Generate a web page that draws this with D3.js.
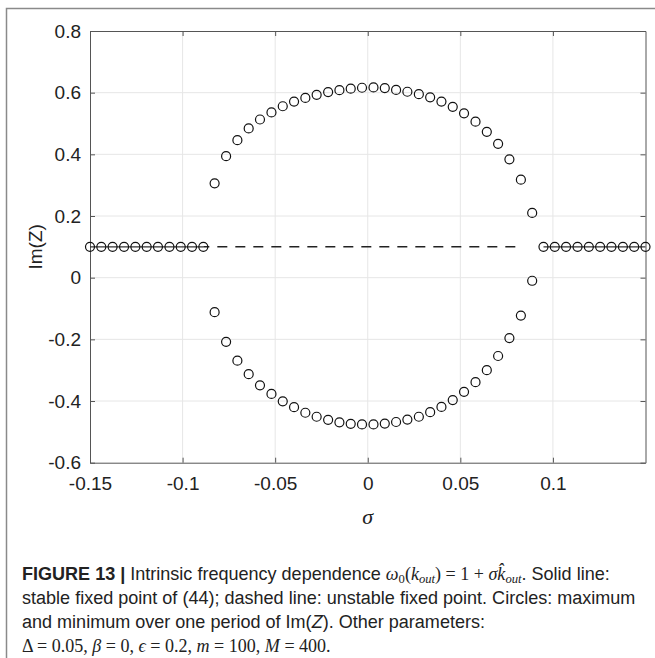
<!DOCTYPE html>
<html>
<head>
<meta charset="utf-8">
<script src="https://cdn.jsdelivr.net/npm/d3@7"></script>
<style>
  body { margin: 0; background: #fff; }
  svg { display: block; }
</style>
</head>
<body>
<script>
// sigma grid (50 points between -0.15 and 0.15)
const sigma = [-0.15, -0.1439, -0.1378, -0.1316, -0.1255, -0.1194, -0.1133, -0.1071, -0.1010, -0.0949,
  -0.0888, -0.0827, -0.0765, -0.0704, -0.0643, -0.0582, -0.0520, -0.0459, -0.0398, -0.0337,
  -0.0276, -0.0214, -0.0153, -0.0092, -0.0031, 0.0031, 0.0092, 0.0153, 0.0214, 0.0276,
  0.0337, 0.0398, 0.0459, 0.0520, 0.0582, 0.0643, 0.0704, 0.0765, 0.0827, 0.0888,
  0.0949, 0.1010, 0.1071, 0.1133, 0.1194, 0.1255, 0.1316, 0.1378, 0.1439, 0.15];

// maximum of Im(Z) over one period
const imMax = [0.1, 0.1, 0.1, 0.1, 0.1, 0.1, 0.1, 0.1, 0.1, 0.1,
  0.1, 0.306, 0.394, 0.446, 0.484, 0.513, 0.536, 0.556, 0.571, 0.583,
  0.593, 0.602, 0.608, 0.613, 0.616, 0.617, 0.615, 0.609, 0.603, 0.595,
  0.585, 0.571, 0.554, 0.533, 0.506, 0.473, 0.434, 0.384, 0.318, 0.210,
  0.1, 0.1, 0.1, 0.1, 0.1, 0.1, 0.1, 0.1, 0.1, 0.1];

// minimum of Im(Z) over one period
const imMin = [0.1, 0.1, 0.1, 0.1, 0.1, 0.1, 0.1, 0.1, 0.1, 0.1,
  0.1, -0.112, -0.208, -0.269, -0.313, -0.349, -0.377, -0.401, -0.420, -0.438,
  -0.451, -0.461, -0.469, -0.474, -0.476, -0.476, -0.473, -0.468, -0.460, -0.451,
  -0.436, -0.419, -0.397, -0.370, -0.339, -0.300, -0.254, -0.196, -0.123, -0.010,
  0.1, 0.1, 0.1, 0.1, 0.1, 0.1, 0.1, 0.1, 0.1, 0.1];

// fixed point: stable (solid) and unstable (dashed), null where not drawn
const stableFP = [0.1, 0.1, 0.1, 0.1, 0.1, 0.1, 0.1, 0.1, 0.1, 0.1,
  0.1, null, null, null, null, null, null, null, null, null,
  null, null, null, null, null, null, null, null, null, null,
  null, null, null, null, null, null, null, null, null, null,
  0.1, 0.1, 0.1, 0.1, 0.1, 0.1, 0.1, 0.1, 0.1, 0.1];
const unstableFP = [null, null, null, null, null, null, null, null, null, null,
  0.1, 0.1, 0.1, 0.1, 0.1, 0.1, 0.1, 0.1, 0.1, 0.1,
  0.1, 0.1, 0.1, 0.1, 0.1, 0.1, 0.1, 0.1, 0.1, 0.1,
  0.1, 0.1, 0.1, 0.1, 0.1, 0.1, 0.1, 0.1, 0.1, null,
  null, null, null, null, null, null, null, null, null, null];

const xTicks = [-0.15, -0.1, -0.05, 0, 0.05, 0.1];
const yTicks = [-0.6, -0.4, -0.2, 0, 0.2, 0.4, 0.6, 0.8];

const width = 655;
const height = 658;
const marginTop = 31;
const marginLeft = 90;
const plotRight = 645.5;
const plotBottom = 462.7;

const x = d3.scaleLinear().domain([-0.15, 0.15]).range([marginLeft, plotRight]);
const y = d3.scaleLinear().domain([-0.6, 0.8]).range([plotBottom, marginTop]);

const svg = d3.select("body")
  .append("svg")
    .attr("width", width)
    .attr("height", height)
    .attr("viewBox", [0, 0, width, height]);

// outer figure frame (left and top edges)
svg.append("path")
    .attr("d", `M6.5,${height}V8.5H${width}`)
    .attr("fill", "none")
    .attr("stroke", "#8a8a8a")
    .attr("stroke-width", 1.5);

// grid
svg.append("g")
    .attr("stroke", "#e6e6e6")
  .selectAll()
  .data(xTicks.slice(1))
  .join("line")
    .attr("x1", d => x(d)).attr("x2", d => x(d))
    .attr("y1", marginTop).attr("y2", plotBottom);
svg.append("g")
    .attr("stroke", "#e6e6e6")
  .selectAll()
  .data(yTicks.slice(1, -1))
  .join("line")
    .attr("y1", d => y(d)).attr("y2", d => y(d))
    .attr("x1", marginLeft).attr("x2", plotRight);

// axes: ticks inward on all four sides
const tickFont = "Liberation Sans, Arial, sans-serif";
const styleAxis = g => {
  g.select(".domain").attr("stroke", "#555");
  g.selectAll(".tick line").attr("stroke", "#555");
  g.selectAll(".tick text").attr("fill", "#222").attr("font-size", 19).attr("font-family", tickFont);
};
svg.append("g")
    .attr("transform", `translate(0,${plotBottom})`)
    .call(d3.axisBottom(x).tickValues(xTicks).tickSizeInner(-5).tickSizeOuter(0).tickPadding(14)
      .tickFormat(d => String(d)))
    .call(styleAxis);
svg.append("g")
    .attr("transform", `translate(0,${marginTop})`)
    .call(d3.axisTop(x).tickValues(xTicks).tickSizeInner(-5).tickSizeOuter(0).tickFormat(""))
    .call(styleAxis);
svg.append("g")
    .attr("transform", `translate(${marginLeft},0)`)
    .call(d3.axisLeft(y).tickValues(yTicks).tickSizeInner(-5).tickSizeOuter(0).tickPadding(9)
      .tickFormat(d => String(+d.toFixed(1))))
    .call(styleAxis);
svg.append("g")
    .attr("transform", `translate(${plotRight},0)`)
    .call(d3.axisRight(y).tickValues(yTicks).tickSizeInner(-5).tickSizeOuter(0).tickFormat(""))
    .call(styleAxis);

// axis labels
svg.append("text")
    .attr("transform", `translate(42,${(marginTop + plotBottom) / 2}) rotate(-90)`)
    .attr("text-anchor", "middle")
    .attr("font-family", tickFont)
    .attr("font-size", 19)
    .attr("fill", "#222")
    .text("Im(Z)");
svg.append("text")
    .attr("x", x(0))
    .attr("y", 524)
    .attr("text-anchor", "middle")
    .attr("font-family", "Liberation Serif, serif")
    .attr("font-style", "italic")
    .attr("font-size", 22)
    .attr("fill", "#222")
    .text("σ");

// fixed point lines
const idx = d3.range(sigma.length);
const fpLine = arr => d3.line()
    .defined(i => arr[i] !== null)
    .x(i => x(sigma[i]))
    .y(i => y(arr[i]));
svg.append("path")
    .attr("d", fpLine(stableFP)(idx))
    .attr("fill", "none")
    .attr("stroke", "#333")
    .attr("stroke-width", 1.2);
svg.append("path")
    .attr("d", fpLine(unstableFP)(idx))
    .attr("fill", "none")
    .attr("stroke", "#222")
    .attr("stroke-width", 1.5)
    .attr("stroke-dasharray", "10,8")
    .attr("stroke-dashoffset", 4);

// circles: max and min of Im(Z)
const circles = svg.append("g")
    .attr("fill", "none")
    .attr("stroke", "#111")
    .attr("stroke-width", 1.2);
circles.selectAll(".max")
  .data(idx)
  .join("circle")
    .attr("class", "max")
    .attr("cx", i => x(sigma[i]))
    .attr("cy", i => y(imMax[i]))
    .attr("r", 4.5);
circles.selectAll(".min")
  .data(idx.filter(i => imMin[i] !== imMax[i]))
  .join("circle")
    .attr("class", "min")
    .attr("cx", i => x(sigma[i]))
    .attr("cy", i => y(imMin[i]))
    .attr("r", 4.5);

// caption
const capFont = "Liberation Sans Narrow, Liberation Sans, Arial, sans-serif";
const mathFont = "Liberation Serif, serif";
const caption = svg.append("g")
    .attr("fill", "#222")
    .attr("font-family", capFont);
const capX = 22;
const capY = [580, 604, 628, 652];

const lines = [];
const l1 = caption.append("text").attr("x", capX).attr("y", capY[0]);
l1.append("tspan").attr("font-weight", "bold").text("FIGURE 13 | ");
l1.append("tspan").text("Intrinsic frequency dependence ");
l1.append("tspan").attr("font-family", mathFont).attr("font-style", "italic").text("ω");
l1.append("tspan").attr("font-family", mathFont).attr("font-size", "0.7em").attr("dy", 3).text("0");
l1.append("tspan").attr("font-family", mathFont).attr("dy", -3).text("(");
l1.append("tspan").attr("font-family", mathFont).attr("font-style", "italic").text("k");
l1.append("tspan").attr("font-family", mathFont).attr("font-style", "italic").attr("font-size", "0.7em").attr("dy", 3).text("out");
l1.append("tspan").attr("font-family", mathFont).attr("dy", -3).text(") = 1 + ");
l1.append("tspan").attr("font-family", mathFont).attr("font-style", "italic").text("σk\u0302");
l1.append("tspan").attr("font-family", mathFont).attr("font-style", "italic").attr("font-size", "0.7em").attr("dy", 3).text("out");
l1.append("tspan").attr("dy", -3).text(". Solid line:");
lines.push(l1);

const l2 = caption.append("text").attr("x", capX).attr("y", capY[1])
    .text("stable fixed point of (44); dashed line: unstable fixed point. Circles: maximum");
lines.push(l2);

const l3 = caption.append("text").attr("x", capX).attr("y", capY[2]);
l3.append("tspan").text("and minimum over one period of Im(");
l3.append("tspan").attr("font-style", "italic").text("Z");
l3.append("tspan").text("). Other parameters:");
lines.push(l3);

const l4 = caption.append("text").attr("x", capX).attr("y", capY[3])
    .attr("font-family", mathFont);
l4.append("tspan").text("Δ = 0.05, ");
l4.append("tspan").attr("font-style", "italic").text("β");
l4.append("tspan").text(" = 0, ");
l4.append("tspan").attr("font-style", "italic").text("ϵ");
l4.append("tspan").text(" = 0.2, ");
l4.append("tspan").attr("font-style", "italic").text("m");
l4.append("tspan").text(" = 100, ");
l4.append("tspan").attr("font-style", "italic").text("M");
l4.append("tspan").text(" = 400.");
lines.push(l4);

// fit caption size so line 2 spans the same width as in the figure
lines.forEach(t => t.attr("font-size", 15));
const w2 = l2.node().getComputedTextLength();
const fs = 15 * 614 / w2;
lines.forEach(t => t.attr("font-size", fs));
</script>
</body>
</html>
